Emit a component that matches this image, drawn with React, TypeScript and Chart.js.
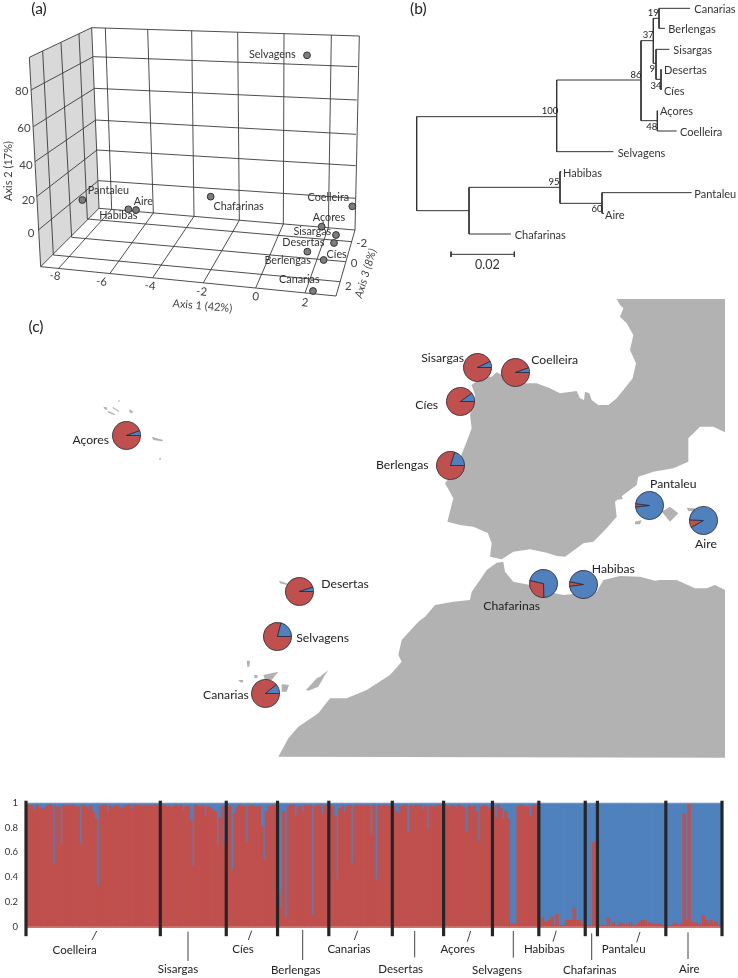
import { useEffect, useRef } from 'react';
import { Chart, registerables } from 'chart.js';

Chart.register(...registerables);

const RED = '#C0504D';
const BLUE = '#4F81BD';
const LAND = '#b2b2b2';
const FONT = 'Lato, "Open Sans", sans-serif';

/* ---------- (a) ordination: positions ---------- */
const ordinationNames = ['Selvagens', 'Pantaleu', 'Aire', 'Habibas', 'Chafarinas', 'Coelleira', 'Açores', 'Sisargas', 'Cíes', 'Desertas', 'Berlengas', 'Canarias'];
const ordinationX = [921, 247, 408, 385, 632, 1057, 965, 1008, 1002, 922, 971, 939];
const ordinationY = [166, 600, 630, 628, 590, 619, 680, 705, 729, 755, 780, 873];
const ordinationLabelX = [817, 325, 430, 355, 716, 985, 987, 937, 1010, 910, 863, 898];
const ordinationLabelY = [165, 572, 605, 648, 621, 592, 654, 695, 765, 727, 782, 838];
const axis1Ticks = ['-8', '-6', '-4', '-2', '0', '2'];
const axis2Ticks = ['80', '60', '40', '20', '0'];
const axis3Ticks = ['-2', '0', '2'];

const leftWall = [[88, 172], [275, 83], [297, 625], [122, 800]];
const boxLines = [
  [88, 172, 122, 800], [128, 153, 160, 765], [183, 128, 215, 712], [237, 102, 262, 657], [275, 83, 297, 625],
  [88, 172, 275, 83], [93, 270, 280, 170], [100, 380, 284, 265], [105, 485, 287, 360], [110, 590, 291, 450], [115, 690, 295, 542], [122, 800, 297, 625],
  [275, 83, 1078, 108], [280, 170, 1072, 200], [284, 265, 1070, 300], [287, 360, 1068, 403], [291, 450, 1067, 497], [295, 542, 1066, 595], [297, 625, 1065, 690],
  [316, 84, 335, 628], [443, 88, 460, 639], [575, 92, 582, 649], [713, 97, 718, 661], [852, 101, 850, 672], [994, 105, 985, 683], [1078, 108, 1065, 690],
  [175, 806, 335, 628], [330, 820, 460, 639], [458, 833, 582, 649], [610, 848, 718, 661], [767, 864, 850, 672], [915, 879, 985, 683],
  [1008, 888, 1065, 690], [122, 800, 1008, 888],
  [160, 765, 1020, 845], [215, 712, 1037, 785], [262, 657, 1055, 725],
];

/* ---------- (b) neighbour-joining tree ---------- */
const treeBranches = [
  [50, 350, 50, 632], [50, 350, 470, 350], [50, 632, 207, 632],
  [470, 240, 470, 455], [470, 240, 723, 240], [470, 455, 640, 455],
  [723, 122, 723, 362], [723, 122, 760, 122], [723, 362, 772, 362],
  [760, 55, 760, 190], [760, 55, 777, 55], [760, 190, 768, 190],
  [777, 25, 777, 85], [777, 25, 870, 25], [777, 85, 795, 85],
  [768, 148, 768, 238], [768, 148, 808, 148], [768, 238, 783, 238],
  [783, 208, 783, 270],
  [772, 332, 772, 393], [772, 393, 830, 393],
  [207, 562, 207, 702], [207, 562, 480, 562], [207, 702, 333, 702],
  [480, 515, 480, 610], [480, 515, 484, 515], [480, 610, 606, 610],
  [606, 578, 606, 640], [606, 578, 875, 578], [606, 640, 612, 640],
  [153, 763, 343, 763], [153, 755, 153, 771], [343, 755, 343, 771],
];
const tipNames = ['Canarias', 'Berlengas', 'Sisargas', 'Desertas', 'Cíes', 'Açores', 'Coelleira', 'Selvagens', 'Habibas', 'Pantaleu', 'Aire', 'Chafarinas'];
const tipX = [883, 805, 820, 792, 792, 780, 840, 653, 489, 883, 615, 344];
const tipY = [27, 88, 150, 212, 273, 335, 397, 459, 521, 583, 645, 706];
const supportValues = ['19', '37', '86', '100', '9', '34', '48', '95', '60'];
const supportX = [760, 745, 708, 450, 757, 768, 755, 462, 591];
const supportY = [38, 106, 226, 334, 208, 257, 380, 546, 627];

/* ---------- (c) map outlines, in the units of the crop they were read from ---------- */
const iberiaAtlantic = [[770, 12], [780, 30], [790, 40], [780, 65], [800, 85], [820, 120], [810, 165], [828, 205], [818, 250], [790, 285], [770, 310], [745, 330], [715, 330], [695, 315], [688, 295], [675, 290], [672, 315], [660, 310], [650, 288], [600, 295], [570, 280], [530, 265], [500, 265], [445, 262], [425, 240], [410, 232], [395, 245], [375, 245], [350, 258], [335, 270], [345, 300], [335, 340], [330, 360], [335, 400], [320, 440], [300, 490], [270, 545], [255, 565], [280, 610], [262, 680], [300, 690], [340, 695], [385, 715]];
const iberiaSouth = [[770, 0], [785, 40], [780, 80], [815, 88], [850, 65], [900, 58], [950, 68], [980, 78], [1005, 80], [1040, 55], [1060, 40], [1090, 35], [1125, 0]];
const iberiaEast = [[770, 665], [765, 620], [790, 600], [830, 570], [835, 545], [880, 530], [940, 520], [985, 500], [985, 430], [1020, 395], [1060, 395], [1095, 412], [1095, 12]];
const africa = [[800, 98], [770, 120], [750, 150], [725, 185], [720, 210], [670, 215], [615, 225], [585, 260], [565, 275], [515, 330], [505, 375], [515, 395], [480, 435], [410, 480], [350, 505], [300, 505], [265, 550], [205, 590], [175, 625], [145, 680], [1485, 683], [1485, 180], [1455, 165], [1430, 175], [1395, 175], [1340, 150], [1290, 150], [1275, 152], [1230, 140], [1170, 138], [1120, 150], [1100, 185], [1000, 195], [975, 190], [900, 165], [850, 155], [825, 125], [820, 95]];
const balearics = [
  [[905, 650], [930, 635], [955, 655], [930, 680]],
  [[980, 638], [1005, 640], [1010, 650], [985, 648]],
  [[825, 680], [845, 675], [840, 688], [825, 688]],
  [[770, 608], [785, 603], [788, 612], [775, 614]],
];
const atlanticIslands = [
  [[147, 152], [170, 160], [170, 165], [150, 160]],
  [[50, 392], [60, 392], [58, 410], [52, 410]],
  [[25, 450], [40, 450], [38, 458], [30, 456]],
  [[72, 435], [82, 435], [82, 445], [74, 445]],
  [[100, 435], [145, 425], [125, 450], [105, 450]],
  [[155, 462], [177, 465], [170, 485], [155, 485]],
  [[228, 480], [260, 445], [270, 440], [295, 420], [285, 435], [265, 470], [235, 482]],
];
const azores = [
  [[130, 80], [140, 82], [142, 90], [134, 88]],
  [[143, 92], [165, 102], [163, 106], [143, 97]],
  [[158, 80], [178, 93], [176, 96], [158, 84]],
  [[208, 88], [220, 95], [215, 100], [208, 96]],
  [[275, 170], [310, 180], [306, 184], [280, 180]],
  [[298, 234], [303, 234], [302, 239], [298, 239]],
  [[175, 61], [179, 61], [179, 65], [175, 65]],
];

const pieNames = ['Açores', 'Sisargas', 'Coelleira', 'Cíes', 'Berlengas', 'Pantaleu', 'Aire', 'Desertas', 'Selvagens', 'Canarias', 'Chafarinas', 'Habibas'];
const pieRed = [94.5, 93, 94.5, 90, 80, 4, 9, 95, 79, 89, 29, 5.5];
const pieBlue = [5.5, 7, 5.5, 10, 20, 96, 91, 5, 21, 11, 71, 94.5];
const pieStartAngle = [90, 90, 90, 90, 90, 263, 240, 90, 90, 90, 178, 262];
const pieCentreX = [126.7, 477.3, 515, 460.7, 450, 649.3, 703, 299, 277.7, 265.7, 543.3, 583.7];
const pieCentreY = [435, 367.7, 372, 401.7, 465, 505, 520.7, 591, 636, 693.7, 583, 584];
const pieLabelX = [90.7, 442.7, 554.7, 426.7, 402.3, 673.3, 706, 345, 322.7, 226, 511.7, 613.3];
const pieLabelY = [440, 358, 360.3, 405, 465, 484, 544.3, 583.7, 637.7, 695, 605.7, 569.3];

/* ---------- (d) ancestry proportion of the red cluster, per individual ---------- */
const coelleira = [.98, .98, .97, .94, .98, .96, .95, .95, .97, .98, .98, .51, .97, .96, .66, .98, .98, .97, .98, .98, .96, .97, .66, .98, .97, .95, .97, .93, .87, .33, .97, .98, .98, .92, .97, .96, .97, .98, .96, .95, .97, .98, .98, .95, .98, .98, .98, .97, .98, .97, .98, .97, .98, .98, .97];
const sisargas = [.97, .98, .97, .97, .96, .97, .98, .97, .98, .94, .97, .97, .86, .49, .98, .97, .97, .97, .89, .97, .96, .94, .92, .66, .88, .97, .66];
const cies = [.98, .97, .46, .91, .96, .98, .97, .97, .68, .97, .98, .97, .96, .97, .81, .54, .93, .97, .97, .98, .98];
const berlengas = [.26, .15, .93, .07, .97, .98, .98, .89, .96, .97, .93, .98, .97, .98, .09, .97, .98, .98, .91, .98, .91];
const canarias = [.98, .97, .89, .38, .95, .97, .93, .97, .98, .51, .97, .98, .97, .98, .97, .98, .97, .74, .98, .38, .98, .97, .98, .98, .97, .96];
const desertas = [.97, .93, .91, .97, .98, .98, .76, .98, .97, .98, .97, .98, .94, .97, .78, .97, .97, .96, .98, .98, .96];
const acores = [.98, .97, .96, .98, .97, .95, .98, .97, .96, .76, .97, .96, .97, .93, .69, .97, .98, .97, .96, .94];
const selvagens = [.97, .88, .98, .95, .87, .93, .87, .02, .02, .02, .97, .98, .97, .97, .97, .89, .97, .98, .97];
const habibas = [.03, .07, .04, .04, .05, .08, .01, .10, .01, .01, .01, .05, .05, .05, .15, .05, .05, .02, .01];
const chafarinas = [.01, .01, .01, .68, .41];
const pantaleu = [.02, .01, .01, .01, .07, .01, .03, .01, .01, .03, .02, .02, .01, .03, .01, .01, .02, .04, .05, .05, .02, .03, .02, .02, .02, .02, .01, .01];
const aire = [.01, .01, .01, .03, .02, .01, .02, .91, .05, .99, .04, .03, .03, .01, .02, .09, .05, .02, .05, .02, .04, .01, .01];

const populations = [coelleira, sisargas, cies, berlengas, canarias, desertas, acores, selvagens, habibas, chafarinas, pantaleu, aire];
const populationNames = ['Coelleira', 'Sisargas', 'Cíes', 'Berlengas', 'Canarias', 'Desertas', 'Açores', 'Selvagens', 'Habibas', 'Chafarinas', 'Pantaleu', 'Aire'];
const redShare = populations.flat();
const blueShare = redShare.map((v) => 1 - v); // the two clusters are complementary
const individuals = populations.flatMap((p, i) => p.map(() => populationNames[i]));
const proportionTicks = [0, 0.2, 0.4, 0.6, 0.8, 1];

/* layout of the bar panel's annotations, in canvas pixels */
const barLabelX = [74.7, 178, 243, 295.7, 349, 400.7, 457.7, 497, 544.3, 589.7, 623.7, 689.3];
const barLabelY = [170, 189.3, 169.3, 190.3, 169, 189.3, 169, 190, 169.3, 190, 169.7, 189.3];
const leaders = [
  [96.7, 151, 92, 160], [188, 151.7, 188, 181], [251.7, 150.7, 248.3, 160], [302.7, 150, 302.7, 180],
  [357.7, 150.7, 354.3, 160], [414.7, 151, 414.7, 177.3], [470.7, 151, 467.3, 161.7], [513.3, 151, 513.3, 177.7],
  [556.3, 150.7, 553, 161.7], [591.7, 153.3, 591.7, 180], [640, 152, 636.7, 162.3], [688, 152.3, 688, 179],
];

/* ---------- helpers ---------- */
type Note = { t: string; x: number; y: number; size?: number; rot?: number; align?: CanvasTextAlign; color?: string; italic?: boolean };

const polyline = (segs: number[][]) => {
  const out: { x: number; y: number }[] = [];
  segs.forEach(([a, b, c, d]) => {
    out.push({ x: a, y: b }, { x: c, y: d }, { x: NaN, y: NaN });
  });
  return out;
};
const toPts = (pts: number[][], f: (p: number[]) => { x: number; y: number } = ([x, y]) => ({ x, y })) => pts.map(f);
const fromCropA = ([x, y]: number[]) => ({ x: 360 + x / 3, y: 295 + y / 3 });
const fromCropB = ([x, y]: number[]) => ({ x: 230 + x / 3, y: 530 + y / 3 });
const fromCropC = ([x, y]: number[]) => ({ x: 60 + x / 3, y: 380 + y / 3 });

const notesPlugin = (notes: Note[]) => ({
  id: 'notes',
  afterDatasetsDraw(chart: any) {
    const { ctx, scales } = chart;
    notes.forEach((n) => {
      ctx.save();
      ctx.translate(scales.x.getPixelForValue(n.x), scales.y.getPixelForValue(n.y));
      if (n.rot) ctx.rotate((n.rot * Math.PI) / 180);
      ctx.font = `${n.italic ? 'italic ' : ''}${n.size ?? 13}px ${FONT}`;
      ctx.fillStyle = n.color ?? '#222';
      ctx.textAlign = n.align ?? 'center';
      ctx.textBaseline = 'middle';
      ctx.fillText(n.t, 0, 0);
      ctx.restore();
    });
  },
});

const plainOptions = (xMin: number, xMax: number, yMin: number, yMax: number) => ({
  animation: false,
  responsive: false,
  maintainAspectRatio: false,
  layout: { padding: 0, autoPadding: false },
  plugins: { legend: { display: false }, tooltip: { enabled: false } },
  elements: { line: { tension: 0 } },
  scales: {
    x: { type: 'linear', display: false, min: xMin, max: xMax },
    y: { type: 'linear', display: false, min: yMin, max: yMax, reverse: true },
  },
});

function Panel({ left, top, width, height, make }: { left: number; top: number; width: number; height: number; make: () => any }) {
  const ref = useRef<HTMLCanvasElement>(null);
  useEffect(() => {
    const chart = new Chart(ref.current as HTMLCanvasElement, make());
    return () => chart.destroy();
  }, []);
  return <canvas ref={ref} width={width} height={height} style={{ position: 'absolute', left, top, width, height, display: 'block', filter: 'blur(0.4px)' }} />;
}

/* ---------- configs ---------- */
const ordinationConfig = () => {
  const notes: Note[] = [
    { t: '(a)', x: 117, y: 28, size: 15.5 },
    ...ordinationNames.map((t, i) => ({ t, x: ordinationLabelX[i], y: ordinationLabelY[i], size: 10.8, color: '#333' })),
    ...axis1Ticks.map((t, i) => ({ t, x: [165, 305, 450, 605, 767, 915][i], y: [828, 845, 858, 875, 890, 908][i], size: 11.5, rot: 6, color: '#444' })),
    ...axis2Ticks.map((t, i) => ({ t, x: [65, 72, 78, 85, 93][i], y: [275, 385, 495, 600, 700][i], size: 11.5, color: '#444' })),
    ...axis3Ticks.map((t, i) => ({ t, x: [1085, 1062, 1045][i], y: [730, 790, 858][i], size: 11.5, color: '#444' })),
    { t: 'Axis 1 (42%)', x: 607, y: 918, size: 11, rot: 5, color: '#444' },
    { t: 'Axis 2 (17%)', x: 25, y: 513, size: 11, rot: -90, color: '#444' },
    { t: 'Axis 3 (8%)', x: 1097, y: 820, size: 11, rot: -73, color: '#444', italic: true },
  ];
  return {
    type: 'scatter',
    data: {
      datasets: [
        { data: ordinationX.map((x, i) => ({ x, y: ordinationY[i] })), pointRadius: 3.4, pointBackgroundColor: '#7d7d7d', pointBorderColor: '#333', pointBorderWidth: 1, order: 0 },
        { data: polyline(boxLines), showLine: true, borderColor: '#3a3a3a', borderWidth: 0.9, pointRadius: 0, spanGaps: false, order: 1 },
        { data: toPts(leftWall), showLine: true, fill: 'shape', backgroundColor: '#d9d9d9', borderWidth: 0, pointRadius: 0, order: 2 },
      ],
    },
    options: plainOptions(0, 1134, 0, 960),
    plugins: [notesPlugin(notes)],
  };
};

const treeConfig = () => {
  const notes: Note[] = [
    { t: '(b)', x: 55, y: 28, size: 15.5 },
    ...tipNames.map((t, i) => ({ t, x: tipX[i], y: tipY[i], size: 11, align: 'left' as CanvasTextAlign, color: '#333' })),
    ...supportValues.map((t, i) => ({ t, x: supportX[i], y: supportY[i], size: 9.5, color: '#222' })),
    { t: '0.02', x: 262, y: 795, size: 12.5, color: '#333' },
  ];
  return {
    type: 'scatter',
    data: { datasets: [{ data: polyline(treeBranches), showLine: true, borderColor: '#333', borderWidth: 1, pointRadius: 0, spanGaps: false }] },
    options: plainOptions(0, 1014, 0, 810),
    plugins: [notesPlugin(notes)],
  };
};

const landSet = (pts: { x: number; y: number }[]) => ({ data: pts, showLine: true, fill: 'shape', backgroundColor: LAND, borderWidth: 0, pointRadius: 0 });

const mapConfig = () => {
  const notes: Note[] = [
    { t: '(c)', x: 36, y: 327, size: 15.5 },
    ...pieNames.map((t, i) => ({ t, x: pieLabelX[i], y: pieLabelY[i], size: 12.2, color: '#222' })),
  ];
  return {
    type: 'scatter',
    data: {
      datasets: [
        landSet([...toPts(iberiaAtlantic, fromCropA), ...toPts(iberiaSouth, fromCropB), ...toPts(iberiaEast, fromCropA)]),
        landSet(toPts(africa, fromCropB)),
        ...balearics.map((p) => landSet(toPts(p, fromCropA))),
        ...atlanticIslands.map((p) => landSet(toPts(p, fromCropB))),
        ...azores.map((p) => landSet(toPts(p, fromCropC))),
      ],
    },
    options: plainOptions(0, 738, 295, 775),
    plugins: [notesPlugin(notes)],
  };
};

const pieConfig = (i: number) => ({
  type: 'pie',
  data: {
    labels: ['Red cluster', 'Blue cluster'],
    datasets: [{ data: [pieRed[i], pieBlue[i]], backgroundColor: [RED, BLUE], borderColor: '#2a2a3a', borderWidth: 0.8 }],
  },
  options: {
    animation: false,
    responsive: false,
    rotation: pieStartAngle[i],
    layout: { padding: 0 },
    plugins: { legend: { display: false }, tooltip: { enabled: false } },
  },
});

const barDecor = {
  id: 'barDecor',
  afterDatasetsDraw(chart: any) {
    const { ctx, scales, chartArea } = chart;
    ctx.save();
    ctx.strokeStyle = '#8a8f96';
    ctx.lineWidth = 1;
    [0, 1].forEach((v) => {
      const y = Math.round(scales.y.getPixelForValue(v)) + 0.5;
      ctx.beginPath();
      ctx.moveTo(chartArea.left, y);
      ctx.lineTo(chartArea.right, y);
      ctx.stroke();
    });
    ctx.strokeStyle = '#262626';
    ctx.lineWidth = 3.2;
    let count = 0;
    [0, ...populations.map((p) => (count += p.length))].forEach((n) => {
      const x = scales.x.getPixelForValue(n - 0.5);
      ctx.beginPath();
      ctx.moveTo(x, chartArea.top - 2);
      ctx.lineTo(x, chartArea.bottom + 9.5);
      ctx.stroke();
    });
    ctx.strokeStyle = '#444';
    ctx.lineWidth = 1;
    leaders.forEach(([a, b, c, d]) => {
      ctx.beginPath();
      ctx.moveTo(a, b);
      ctx.lineTo(c, d);
      ctx.stroke();
    });
    ctx.font = `11.5px ${FONT}`;
    ctx.fillStyle = '#222';
    ctx.textAlign = 'center';
    ctx.textBaseline = 'middle';
    populationNames.forEach((t, i) => ctx.fillText(t, barLabelX[i], barLabelY[i]));
    ctx.restore();
  },
};

const barConfig = () => ({
  type: 'bar',
  data: {
    labels: individuals,
    datasets: [
      { label: 'Red cluster', data: redShare, backgroundColor: RED, categoryPercentage: 1, barPercentage: 1, borderWidth: 0, inflateAmount: 0.5 },
      { label: 'Blue cluster', data: blueShare, backgroundColor: BLUE, categoryPercentage: 1, barPercentage: 1, borderWidth: 0, inflateAmount: 0.5 },
    ],
  },
  options: {
    animation: false,
    responsive: false,
    layout: { padding: { top: 22.7, right: 16, bottom: 51.3, left: 0 } },
    plugins: { legend: { display: false }, tooltip: { enabled: false } },
    scales: {
      x: { stacked: true, display: false },
      y: {
        stacked: true,
        min: 0,
        max: 1,
        afterFit: (s: any) => {
          s.width = 26;
        },
        afterBuildTicks: (s: any) => {
          s.ticks = proportionTicks.map((value) => ({ value }));
        },
        grid: { display: false, drawTicks: false },
        border: { display: false },
        ticks: { padding: 8, color: '#333', font: { family: FONT, size: 9.5 }, callback: (v: number) => String(+v.toFixed(1)) },
      },
    },
  },
  plugins: [barDecor],
});

export default function App() {
  return (
    <div style={{ position: 'absolute', left: 0, top: 0, width: 738, height: 978, background: '#fff', overflow: 'hidden' }}>
      <Panel left={0} top={0} width={378} height={320} make={ordinationConfig} />
      <Panel left={400} top={0} width={338} height={270} make={treeConfig} />
      <Panel left={0} top={295} width={738} height={480} make={mapConfig} />
      {pieNames.map((name, i) => (
        <Panel key={name} left={pieCentreX[i] - 14.5} top={pieCentreY[i] - 14.5} width={29} height={29} make={() => pieConfig(i)} />
      ))}
      <Panel left={0} top={780} width={738} height={198} make={barConfig} />
    </div>
  );
}
